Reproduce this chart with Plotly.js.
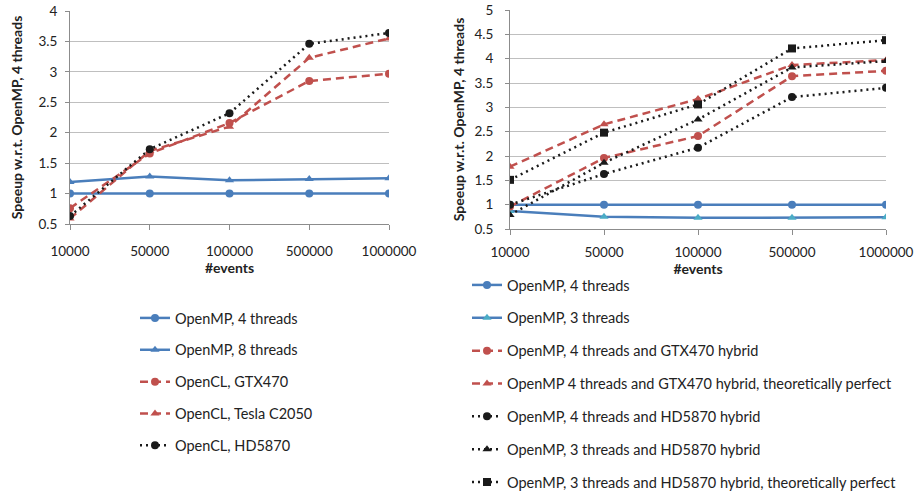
<!DOCTYPE html>
<html>
<head>
<meta charset="utf-8">
<script src="https://cdn.plot.ly/plotly-3.0.1.min.js"></script>
<style>html,body{margin:0;padding:0;background:#fff;}#chart{width:915px;height:493px;}</style>
</head>
<body>
<div id="chart"></div>
<script>
// Categories (#events)
const events = ["10000", "50000", "100000", "500000", "1000000"];

// Left chart series
const leftOmp4 = [1, 1, 1, 1, 1];
const leftOmp8 = [1.19, 1.28, 1.22, 1.24, 1.25];
const leftGtx470 = [0.76, 1.66, 2.16, 2.85, 2.97];
const leftTesla = [0.59, 1.70, 2.10, 3.23, 3.55];
const leftHd5870 = [0.63, 1.73, 2.32, 3.46, 3.64];

// Right chart series
const rightOmp4 = [1, 1, 1, 1, 1];
const rightOmp3 = [0.87, 0.75, 0.73, 0.73, 0.74];
const rightGtxHybrid = [0.96, 1.96, 2.41, 3.64, 3.75];
const rightGtxPerfect = [1.78, 2.65, 3.17, 3.87, 3.97];
const rightHd4Hybrid = [1.0, 1.63, 2.17, 3.21, 3.40];
const rightHd3Hybrid = [0.79, 1.86, 2.75, 3.82, 3.95];
const rightHd3Perfect = [1.51, 2.48, 3.06, 4.21, 4.38];

const leftNames = ["OpenMP, 4 threads", "OpenMP, 8 threads", "OpenCL, GTX470", "OpenCL, Tesla C2050", "OpenCL, HD5870"];
const rightNames = ["OpenMP, 4 threads", "OpenMP, 3 threads", "OpenMP, 4 threads and GTX470 hybrid",
  "OpenMP 4 threads and GTX470 hybrid, theoretically perfect", "OpenMP, 4 threads and HD5870 hybrid",
  "OpenMP, 3 threads and HD5870 hybrid", "OpenMP, 3 threads and HD5870 hybrid, theoretically perfect"];

const BLUE = "#4a7ebb", LBLUE = "#4bacc6", RED = "#c0504d", BLACK = "#1a1a1a";
const FONT = "Lato, 'Open Sans', sans-serif";

function tr(y, name, xa, ya, leg, color, dash, width, sym, mcolor, grp) {
  return {
    x: events, y: y, name: name, xaxis: xa, yaxis: ya, legend: leg, legendgroup: grp,
    type: "scatter", mode: "lines+markers",
    line: {color: color, dash: dash, width: width},
    marker: {symbol: sym, size: 8, color: mcolor || color}
  };
}
const DASH = "8px,5px", DOT = "2px,4px";
const data = [
  tr(leftOmp4, leftNames[0], "x", "y", "legend", BLUE, "solid", 2.5, "circle", null, "a1"),
  tr(leftOmp8, leftNames[1], "x", "y", "legend", BLUE, "solid", 2.5, "triangle-up", null, "a2"),
  tr(leftGtx470, leftNames[2], "x", "y", "legend", RED, DASH, 2.5, "circle", null, "a3"),
  tr(leftTesla, leftNames[3], "x", "y", "legend", RED, DASH, 2.5, "triangle-up", null, "a4"),
  tr(leftHd5870, leftNames[4], "x", "y", "legend", BLACK, DOT, 2.5, "circle", null, "a5"),
  tr(rightOmp4, rightNames[0], "x2", "y2", "legend2", BLUE, "solid", 2.5, "circle", null, "b1"),
  tr(rightOmp3, rightNames[1], "x2", "y2", "legend2", BLUE, "solid", 2.5, "triangle-up", LBLUE, "b2"),
  tr(rightGtxHybrid, rightNames[2], "x2", "y2", "legend2", RED, DASH, 2.5, "circle", null, "b3"),
  tr(rightGtxPerfect, rightNames[3], "x2", "y2", "legend2", RED, DASH, 2.5, "triangle-up", null, "b4"),
  tr(rightHd4Hybrid, rightNames[4], "x2", "y2", "legend2", BLACK, DOT, 2.5, "circle", null, "b5"),
  tr(rightHd3Hybrid, rightNames[5], "x2", "y2", "legend2", BLACK, DOT, 2.5, "triangle-up", null, "b6"),
  tr(rightHd3Perfect, rightNames[6], "x2", "y2", "legend2", BLACK, DOT, 2.5, "square", null, "b7")
];

const xCommon = {
  type: "category", range: [0, 4], showline: true, linecolor: "#8c8c8c", linewidth: 1,
  ticks: "outside", ticklen: 5, tickcolor: "#8c8c8c", showgrid: false, zeroline: false,
  tickfont: {size: 13.5, color: "#222", family: FONT}, automargin: false
};
const yCommon = {
  showline: true, linecolor: "#8c8c8c", linewidth: 1, ticks: "outside", ticklen: 4, tickcolor: "#8c8c8c",
  showgrid: true, gridcolor: "#bfbfbf", gridwidth: 1, zeroline: false, dtick: 0.5,
  tickfont: {size: 13.5, color: "#222", family: FONT}, automargin: false
};
const xTitleFont = {size: 14, color: "#222", family: FONT};
const yTitleFont = {size: 14, color: "#222", family: FONT};

const legCommon = {
  font: {size: 14.5, color: "#222", family: FONT}, bgcolor: "rgba(0,0,0,0)",
  traceorder: "grouped", xanchor: "left", yanchor: "top", itemwidth: 30
};

const layout = {
  width: 915, height: 493,
  margin: {l: 0, r: 0, t: 0, b: 0, autoexpand: false},
  paper_bgcolor: "#fff", plot_bgcolor: "#fff",
  font: {family: FONT},
  showlegend: true,
  xaxis: Object.assign({}, xCommon, {domain: [70/915, 389/915], anchor: "y", ticklabelstandoff: 10,
    title: {text: "<b>#events</b>", font: xTitleFont, standoff: 4}}),
  yaxis: Object.assign({}, yCommon, {domain: [1 - 224/493, 1 - 11/493], range: [0.5, 4], anchor: "x", ticklabelstandoff: 5,
    title: {text: "<b>Speeup w.r.t. OpenMP, 4 threads</b>", font: yTitleFont, standoff: 12}}),
  xaxis2: Object.assign({}, xCommon, {domain: [510/915, 886/915], anchor: "y2", ticklabelstandoff: 6,
    title: {text: "<b>#events</b>", font: xTitleFont, standoff: 2}}),
  yaxis2: Object.assign({}, yCommon, {domain: [1 - 229/493, 1 - 10/493], range: [0.5, 5], anchor: "x2", ticklabelstandoff: 9,
    title: {text: "<b>Speeup w.r.t. OpenMP, 4 threads</b>", font: yTitleFont, standoff: 6}}),
  legend: Object.assign({}, legCommon, {x: 135/915, y: 1 - 302/493, tracegroupgap: 10}),
  legend2: Object.assign({}, legCommon, {x: 467/915, y: 1 - 269/493, tracegroupgap: 11})
};

Plotly.newPlot("chart", data, layout, {displayModeBar: false, staticPlot: true});
</script>
</body>
</html>
